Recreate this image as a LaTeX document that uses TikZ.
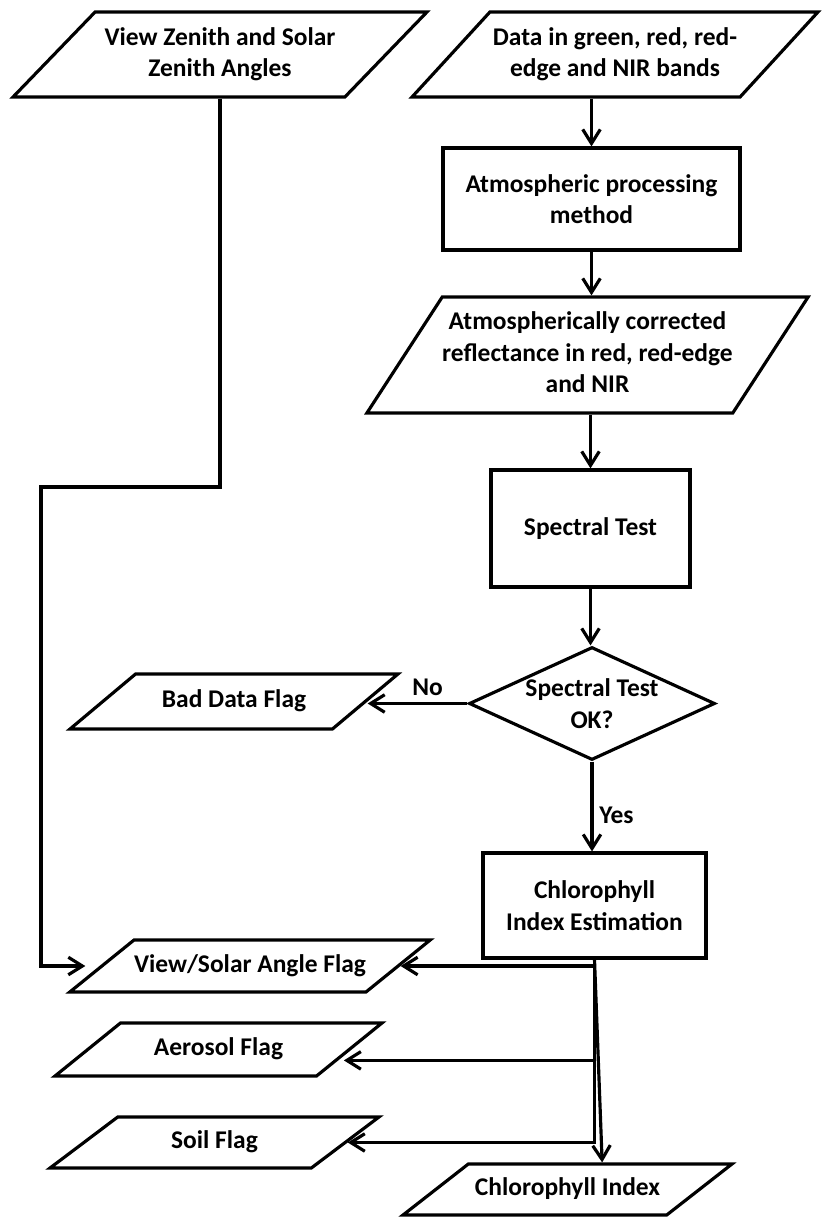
\documentclass[tikz,border=0pt]{standalone}
\usepackage{fontspec}
\setmainfont{Carlito}
\usetikzlibrary{shapes.geometric,arrows.meta,positioning}
\tikzset{>={Straight Barb[length=8pt,width=10pt]}}
\newcommand{\flowfont}{\fontsize{14.5}{18}\selectfont\bfseries}
% fixed-height text box, so the slant of a parallelogram follows its full height
\newcommand{\iotxt}[2]{\vbox to #1{\vss\hbox{\begin{tabular}{@{}c@{}}#2\end{tabular}}\vss}}

\begin{document}
\begin{tikzpicture}[x=0.02cm,y=-0.02cm,
                    line width=1.8pt,
                    io/.style n args={2}{trapezium, trapezium stretches body, draw,
                        trapezium left angle=#1, trapezium right angle=#2,
                        inner sep=0pt, font=\flowfont},
                    proc/.style={rectangle, draw, align=center, font=\flowfont},
                    test/.style={diamond, draw, aspect=2.2, inner sep=-2pt, align=center, font=\flowfont},
                    lbl/.style={font=\flowfont},
                   ]

\useasboundingbox (0,0) rectangle (822,1222);

% inputs
\node[io={46}{134}, minimum width=8.28cm] (vza) at (220,54.5) {\iotxt{1.70cm}{View Zenith and Solar\\Zenith Angles}};
\node[io={47.5}{132.5}, minimum width=8.12cm] (data) at (615,54.5) {\iotxt{1.70cm}{Data in green, red, red-\\edge and NIR bands}};

% main chain
\node[proc, minimum width=5.94cm, minimum height=2.04cm] (atm) at (591.5,199) {Atmospheric processing\\method};
\node[io={57}{123}, minimum width=8.50cm] (corr) at (587.5,355) {\iotxt{2.32cm}{Atmospherically corrected\\reflectance in red, red-edge\\and NIR}};
\node[proc, minimum width=3.98cm, minimum height=2.34cm] (spec) at (590.5,528.5) {Spectral Test};
\node[test, minimum width=4.92cm, minimum height=2.26cm] (ok) at (592,703.5) {Spectral Test\\OK?};
\node[io={40}{140}, minimum width=6.56cm] (bad) at (234,701.5) {\iotxt{1.10cm}{Bad Data Flag}};
\node[proc, minimum width=4.46cm, minimum height=2.10cm] (est) at (594.5,905.5) {Chlorophyll\\Index Estimation};

% outputs
\node[io={39}{141}, minimum width=6.60cm] (vsa) at (250,966) {\iotxt{1.04cm}{View/Solar Angle Flag}};
\node[io={39}{141}, minimum width=6.54cm] (aer) at (218.5,1049.5) {\iotxt{1.06cm}{Aerosol Flag}};
\node[io={37}{143}, minimum width=6.58cm] (soil) at (214.5,1142.5) {\iotxt{1.02cm}{Soil Flag}};
\node[io={38}{142}, minimum width=6.58cm] (ci) at (567.5,1189.5) {\iotxt{1.02cm}{Chlorophyll Index}};

\coordinate (bend) at (41,487);

\draw[->, shorten >=8pt] (vza.south) |- (bend) |- (vsa.west);
\draw[->] (atm.north |- data.south) -- (atm.north);
\draw[->] (atm.south) -- (atm.south |- corr.north);
\draw[->] (spec.north |- corr.south) -- (spec.north);
\draw[->] (spec.south) -- (spec.south |- ok.north);
\draw[->] (ok.west) -- (ok.west -| bad.east) node[lbl, pos=0.4, above] {No};
\draw[->] (ok.south) -- (ok.south |- est.north) node[lbl, pos=0.6, right] {Yes};

\draw[->] (est.south) |- (vsa.east);
\draw[->] (est.south) |- ([xshift=-4.5pt,yshift=-6.2pt]aer.east);
\draw[->] (est.south) |- (soil.east);
\draw[->] (est.south) -- (ci.top side);

\end{tikzpicture}
\end{document}
